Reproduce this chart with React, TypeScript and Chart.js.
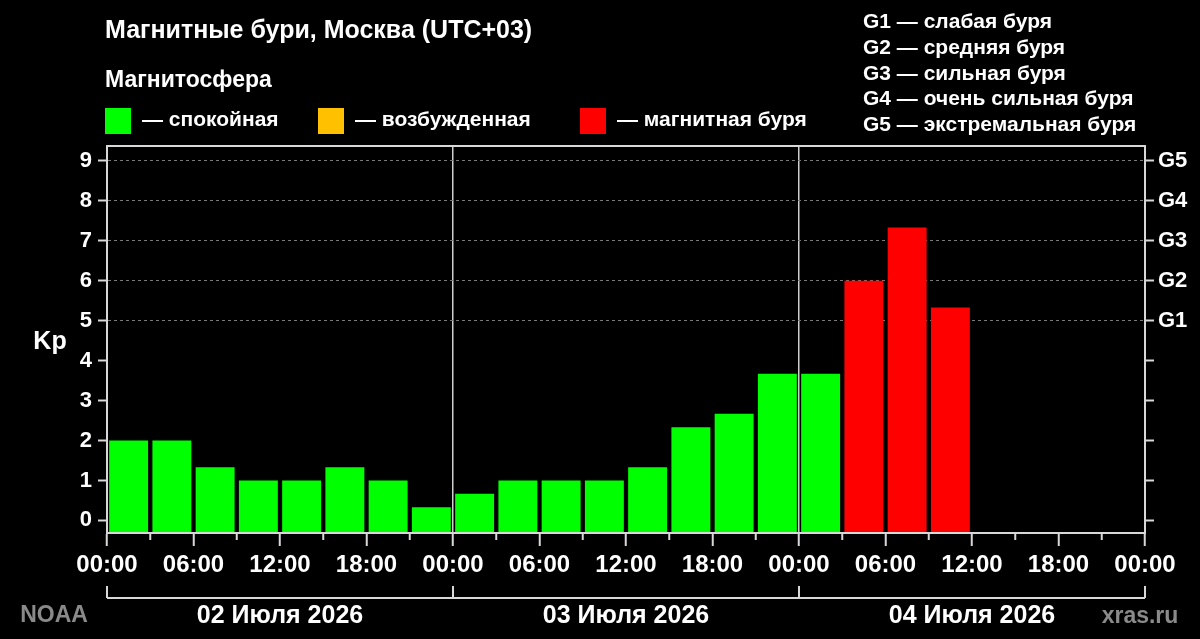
import React, { useEffect, useRef } from 'react';
import { Chart, registerables } from 'chart.js';

Chart.register(...registerables);

// ---- data ----
const slotStartHours = [0, 3, 6, 9, 12, 15, 18, 21, 24, 27, 30, 33, 36, 39, 42, 45, 48, 51, 54, 57, 60, 63, 66, 69];
const kpValues: (number | null)[] = [
  2, 2, 1.33, 1, 1, 1.33, 1, 0.33,
  0.67, 1, 1, 1, 1.33, 2.33, 2.67, 3.67,
  3.67, 6, 7.33, 5.33, null, null, null, null,
];
const xTickHours = [0, 3, 6, 9, 12, 15, 18, 21, 24, 27, 30, 33, 36, 39, 42, 45, 48, 51, 54, 57, 60, 63, 66, 69, 72];
const xLabelHours = [0, 6, 12, 18, 24, 30, 36, 42, 48, 54, 60, 66, 72];
const xLabelTexts = ['00:00', '06:00', '12:00', '18:00', '00:00', '06:00', '12:00', '18:00', '00:00', '06:00', '12:00', '18:00', '00:00'];
const yTicks = [0, 1, 2, 3, 4, 5, 6, 7, 8, 9];
const gLevels = [5, 6, 7, 8, 9];
const gLabels = ['G1', 'G2', 'G3', 'G4', 'G5'];
const gDescriptions = [
  'G1 — слабая буря',
  'G2 — средняя буря',
  'G3 — сильная буря',
  'G4 — очень сильная буря',
  'G5 — экстремальная буря',
];
const dayBoundaryHours = [0, 24, 48, 72];
const dayLabels = ['02 Июля 2026', '03 Июля 2026', '04 Июля 2026'];
const titleText = 'Магнитные бури, Москва (UTC+03)';
const subtitleText = 'Магнитосфера';
const legendLabels = ['— спокойная', '— возбужденная', '— магнитная буря'];
const sourceLeft = 'NOAA';
const sourceRight = 'xras.ru';
const axisTitle = 'Kp';

// ---- style ----
const X_MIN = 0;
const X_MAX = 72;
const Y_MIN = -0.315;
const Y_MAX = 9.37;
const GREEN = '#00ff00';
const ORANGE = '#ffc000';
const RED = '#ff0000';
const FONT = "'Liberation Sans', Arial, sans-serif";
const LINE = '#d8d8d8';

function kpColor(v: number | null) {
  if (v == null) return GREEN;
  if (v >= 5) return RED;
  if (v >= 4) return ORANGE;
  return GREEN;
}

const decorPlugin = {
  id: 'decor',
  beforeDraw(chart: any) {
    const { ctx, width, height } = chart;
    ctx.save();
    ctx.fillStyle = '#000';
    ctx.fillRect(0, 0, width, height);
    ctx.restore();
  },
  afterDraw(chart: any) {
    const { ctx, chartArea } = chart;
    const xs = chart.scales.x;
    ctx.save();
    // frame
    ctx.strokeStyle = LINE;
    ctx.lineWidth = 2;
    ctx.strokeRect(chartArea.left, chartArea.top, chartArea.right - chartArea.left, chartArea.bottom - chartArea.top);

    // minor x ticks
    ctx.lineWidth = 2;
    xTickHours.forEach((h) => {
      if (xLabelHours.includes(h)) return;
      const px = xs.getPixelForValue(h);
      ctx.beginPath();
      ctx.moveTo(px, chartArea.bottom);
      ctx.lineTo(px, chartArea.bottom + 7);
      ctx.stroke();
    });

    // day brackets
    const by = 598;
    ctx.beginPath();
    ctx.moveTo(xs.getPixelForValue(dayBoundaryHours[0]), by);
    ctx.lineTo(xs.getPixelForValue(dayBoundaryHours[dayBoundaryHours.length - 1]), by);
    ctx.stroke();
    dayBoundaryHours.forEach((h) => {
      const px = xs.getPixelForValue(h);
      ctx.beginPath();
      ctx.moveTo(px, by - 12);
      ctx.lineTo(px, by);
      ctx.stroke();
    });

    ctx.fillStyle = '#fff';
    ctx.textBaseline = 'middle';
    ctx.font = `bold 25px ${FONT}`;
    ctx.textAlign = 'center';
    dayLabels.forEach((lbl, i) => {
      const mid = (dayBoundaryHours[i] + dayBoundaryHours[i + 1]) / 2;
      ctx.fillText(lbl, xs.getPixelForValue(mid), 616);
    });

    ctx.font = `bold 23px ${FONT}`;
    ctx.fillStyle = '#8a8a8a';
    ctx.fillText(sourceLeft, 54, 616);
    ctx.fillText(sourceRight, 1140, 617);

    // Kp label
    ctx.fillStyle = '#fff';
    ctx.font = `bold 25px ${FONT}`;
    ctx.fillText(axisTitle, 50, (chartArea.top + chartArea.bottom) / 2 + 3);

    // title
    ctx.textAlign = 'left';
    ctx.font = `bold 25px ${FONT}`;
    ctx.fillText(titleText, 105, 31);
    ctx.font = `bold 23px ${FONT}`;
    ctx.fillText(subtitleText, 105, 81);

    // legend
    ctx.font = `bold 21px ${FONT}`;
    const legendX = [105, 318, 580];
    const legendColors = [GREEN, ORANGE, RED];
    legendLabels.forEach((lbl, i) => {
      ctx.fillStyle = legendColors[i];
      ctx.fillRect(legendX[i], 108, 26, 26);
      ctx.fillStyle = '#fff';
      ctx.fillText(lbl, legendX[i] + 37, 120);
    });

    // G descriptions
    gDescriptions.forEach((d, i) => {
      ctx.fillText(d, 863, 22 + i * 25.9);
    });
    ctx.restore();
  },
};

export default function App() {
  const canvasRef = useRef<HTMLCanvasElement>(null);

  useEffect(() => {
    document.body.style.margin = '0';
    document.body.style.background = '#000';
    const canvas = canvasRef.current;
    if (!canvas) return;

    const points = slotStartHours.map((h, i) => ({ x: h + 1.5, y: kpValues[i] }));

    const chart = new Chart(canvas, {
      type: 'bar',
      data: {
        datasets: [
          {
            data: points as any,
            backgroundColor: kpValues.map((v) => kpColor(v)),
            borderWidth: 0,
            base: Y_MIN,
            barPercentage: 0.9,
            categoryPercentage: 1,
          } as any,
        ],
      },
      options: {
        animation: false,
        responsive: true,
        maintainAspectRatio: false,
        layout: { padding: { top: 146, left: 0, right: 0, bottom: 0 } },
        plugins: {
          legend: { display: false },
          tooltip: { enabled: false },
          title: { display: false },
        },
        scales: {
          x: {
            type: 'linear',
            min: X_MIN,
            max: X_MAX,
            offset: false,
            afterBuildTicks: (s: any) => {
              s.ticks = xTickHours.map((v) => ({ value: v }));
            },
            afterFit: (s: any) => {
              s.height = 106;
            },
            border: { display: true, color: LINE, width: 2 },
            grid: {
              offset: false,
              drawOnChartArea: true,
              drawTicks: true,
              tickLength: 13,
              color: (c: any) => (c.tick && (c.tick.value === 24 || c.tick.value === 48) ? '#cfcfcf' : 'rgba(0,0,0,0)'),
              lineWidth: 1.5,
              tickColor: (c: any) => (c.tick && xLabelHours.includes(c.tick.value) ? LINE : 'rgba(0,0,0,0)'),
              tickWidth: 2,
            },
            ticks: {
              autoSkip: false,
              maxRotation: 0,
              minRotation: 0,
              padding: 5,
              color: '#fff',
              font: { family: FONT, size: 24, weight: 'bold' },
              callback: (v: any) => {
                const idx = xLabelHours.indexOf(Number(v));
                return idx >= 0 ? xLabelTexts[idx] : '';
              },
            },
          },
          y: {
            type: 'linear',
            position: 'left',
            min: Y_MIN,
            max: Y_MAX,
            afterBuildTicks: (s: any) => {
              s.ticks = yTicks.map((v) => ({ value: v }));
            },
            afterFit: (s: any) => {
              s.width = 107;
            },
            border: { display: true, color: LINE, width: 2, dash: [3, 3] },
            grid: {
              drawOnChartArea: true,
              drawTicks: true,
              tickLength: 9,
              color: (c: any) => (c.tick && gLevels.includes(c.tick.value) ? '#7a7a7a' : 'rgba(0,0,0,0)'),
              lineWidth: 1,
              tickColor: LINE,
              tickWidth: 2,
              tickBorderDash: [],
            },
            ticks: {
              padding: 6,
              color: '#fff',
              font: { family: FONT, size: 22, weight: 'bold' },
              callback: (v: any) => String(v),
            },
          },
          y2: {
            type: 'linear',
            position: 'right',
            min: Y_MIN,
            max: Y_MAX,
            afterBuildTicks: (s: any) => {
              s.ticks = yTicks.map((v) => ({ value: v }));
            },
            afterFit: (s: any) => {
              s.width = 55;
            },
            border: { display: true, color: LINE, width: 2 },
            grid: {
              drawOnChartArea: false,
              drawTicks: true,
              tickLength: 9,
              tickColor: LINE,
              tickWidth: 2,
            },
            ticks: {
              padding: 4,
              color: '#fff',
              font: { family: FONT, size: 22, weight: 'bold' },
              callback: (v: any) => {
                const idx = gLevels.indexOf(Number(v));
                return idx >= 0 ? gLabels[idx] : '';
              },
            },
          },
        },
      } as any,
      plugins: [decorPlugin],
    });

    return () => {
      chart.destroy();
    };
  }, []);

  return (
    <div style={{ position: 'fixed', left: 0, top: 0, width: 1200, height: 639, background: '#000' }}>
      <canvas ref={canvasRef} />
    </div>
  );
}
